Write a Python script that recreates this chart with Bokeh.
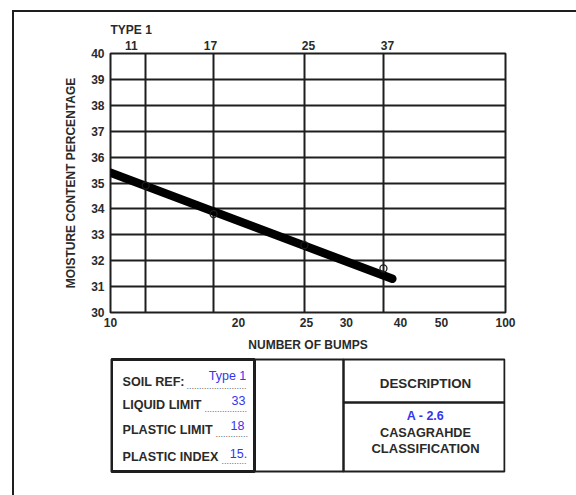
from bokeh.plotting import figure
from bokeh.models import LinearAxis, FixedTicker, Range1d, Column
from bokeh.embed import file_html
from bokeh.resources import INLINE
from bokeh.core.properties import value
import numpy as np

# ---------------- data ----------------
blows = [11, 17, 25, 37]                 # number of bumps per test
moisture = [34.9, 33.8, 32.6, 31.7]      # moisture content %
flow_blows = [10, 38.5]                  # flow line end points (bottom scale)
flow_moisture = [35.4, 31.3]
top_tick_labels = ["11", "17", "25", "37"]
bottom_tick_values = [10, 20, 25, 30, 40, 50, 100]
bottom_tick_labels = ["10", "20", "25", "30", "40", "50", "100"]
y_ticks = [30, 31, 32, 33, 34, 35, 36, 37, 38, 39, 40]
table_labels = ["SOIL REF:", "LIQUID LIMIT", "PLASTIC LIMIT", "PLASTIC INDEX"]
table_values = ["Type 1", "33", "18", "15."]
description = "DESCRIPTION"
classification = "A - 2.6"
classification_text = ["CASAGRAHDE", "CLASSIFICATION"]
soil_type = "TYPE 1"

# ---------------- layout (chart-width positions 0..100) ----------------
grid_pos = [8.9, 26.1, 49.1, 69.1]            # blow-count grid columns
top_label_pos = [5.3, 25.3, 50.1, 70.1]
bottom_scale_pos = [0, 32.4, 49.6, 59.7, 73.4, 83.8, 100]

INK = "#1e1e1e"
TXT = "#2a2a2a"
BLUE = "#3535ee"
FONT = "Liberation Sans"

OX, OY = 14, 12          # content origin inside the page border
CHART_H = 345            # chart figure height (page y 12..357)

p = figure(width=576 - OX, height=CHART_H, x_range=Range1d(0, 100), y_range=Range1d(30, 40),
           output_backend="svg", toolbar_location=None,
           min_border_left=110 - OX, min_border_right=576 - 505, min_border_top=53 - OY,
           min_border_bottom=OY + CHART_H - 312)
p.background_fill_color = "white"
p.border_fill_color = "white"
p.outline_line_color = INK
p.outline_line_width = 2

p.title.text = soil_type
p.title.align = "left"
p.title.text_font = FONT
p.title.text_font_size = "12px"
p.title.text_font_style = "bold"
p.title.text_color = TXT
p.title.standoff = 1

# bottom axis
bx = p.below[0]
bx.ticker = FixedTicker(ticks=bottom_scale_pos)
bx.major_label_overrides = {float(pos): lab for pos, lab in zip(bottom_scale_pos, bottom_tick_labels)}
bx.axis_label = "NUMBER OF BUMPS"
bx.axis_label_standoff = 8

# top axis
tx = LinearAxis(ticker=FixedTicker(ticks=top_label_pos),
                major_label_overrides={float(pos): lab for pos, lab in zip(top_label_pos, top_tick_labels)})
p.add_layout(tx, "above")

# left axis
ly = p.left[0]
ly.ticker = FixedTicker(ticks=y_ticks)
ly.axis_label = "MOISTURE CONTENT PERCENTAGE"
ly.axis_label_standoff = 10

for ax in [bx, tx, ly]:
    ax.axis_line_color = None
    ax.major_tick_line_color = None
    ax.minor_tick_line_color = None
    ax.major_tick_in = 0
    ax.major_tick_out = 0
    ax.major_label_text_font = FONT
    ax.major_label_text_font_size = "12px"
    ax.major_label_text_font_style = "bold"
    ax.major_label_text_color = TXT
    ax.major_label_standoff = 4
    ax.axis_label_text_font = FONT
    ax.axis_label_text_font_size = "12px"
    ax.axis_label_text_font_style = "bold"
    ax.axis_label_text_color = TXT
ly.major_label_standoff = 6
bx.major_label_standoff = 5

# grids
p.xgrid.ticker = FixedTicker(ticks=grid_pos)
p.ygrid.ticker = FixedTicker(ticks=y_ticks)
for g in [p.xgrid, p.ygrid]:
    g.grid_line_color = INK
    g.grid_line_width = 2
    g.grid_line_alpha = 1.0

# flow line and points
pt_x = np.interp(blows, blows, grid_pos)
fl_x = np.interp(flow_blows, bottom_tick_values, bottom_scale_pos)
p.line(fl_x, flow_moisture, line_color="black", line_width=8.5, line_cap="round")
p.scatter(pt_x, moisture, marker="circle", size=7, fill_color=None,
          line_color=INK, line_width=1.3)

# ---------------- table figure (page pixel coordinates) ----------------
# its frame is aligned by the column with the chart frame (page x 110..505)
TOP = OY + CHART_H
t = figure(width=576 - OX, height=495 - TOP, x_range=Range1d(110, 505), y_range=Range1d(495, TOP),
           output_backend="svg", toolbar_location=None, min_border=0)
t.axis.visible = False
t.xgrid.visible = False
t.ygrid.visible = False
t.outline_line_color = None
t.background_fill_color = "white"
t.border_fill_color = "white"

t.quad(left=[111], right=[254], top=[359], bottom=[471], fill_color=None, line_color=INK, line_width=3)
t.quad(left=[254, 343, 343], right=[343, 504, 504], top=[359, 359, 402], bottom=[471, 402, 471],
       fill_color=None, line_color=INK, line_width=2)

row_y = [381, 404, 429, 456]
val_pos = [(227, 375), (238, 400), (237, 425), (238, 453)]
dot_start = [186, 204, 215, 221]
t.text(x=[122] * 4, y=row_y, text=table_labels, text_font=value(FONT), text_font_size="12.6px",
       text_font_style="bold", text_color=TXT, text_baseline="middle", text_align="left")
t.text(x=dot_start, y=[r + 4 for r in row_y], text=["." * int((248 - d) / 2.5) for d in dot_start],
       text_font=value(FONT), text_font_size="9px", text_color="#666666",
       text_baseline="alphabetic", text_align="left")
t.text(x=[v[0] for v in val_pos], y=[v[1] for v in val_pos], text=table_values,
       text_font=value(FONT), text_font_size="12.5px", text_color=BLUE,
       text_baseline="middle", text_align="center")

t.text(x=[425], y=[383], text=[description], text_font=value(FONT), text_font_size="13.4px",
       text_font_style="bold", text_color=TXT, text_baseline="middle", text_align="center")
t.text(x=[425], y=[415], text=[classification], text_font=value(FONT), text_font_size="12.5px",
       text_font_style="bold", text_color=BLUE, text_baseline="middle", text_align="center")
t.text(x=[425], y=[432], text=[classification_text[0]], text_font=value(FONT),
       text_font_size="12.7px", text_font_style="bold", text_color=TXT,
       text_baseline="middle", text_align="center")
t.text(x=[425], y=[448], text=[classification_text[1]], text_font=value(FONT),
       text_font_size="13px", text_font_style="bold", text_color=TXT,
       text_baseline="middle", text_align="center")

page = Column(children=[p, t], spacing=0, margin=(10, 0, 0, 12),
              styles={"border-top": "2px solid #1e1e1e", "border-left": "2px solid #1e1e1e"})

open("out.html", "w").write(file_html(page, INLINE))
